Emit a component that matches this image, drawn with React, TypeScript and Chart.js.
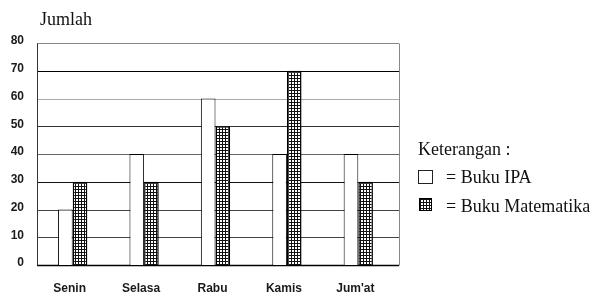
import React, { useEffect, useRef } from "react";
import { Chart, registerables } from "chart.js";

Chart.register(...registerables);

const categories = ["Senin", "Selasa", "Rabu", "Kamis", "Jum'at"];
const bukuIPA = [20, 40, 60, 40, 40];
const bukuMatematika = [30, 30, 50, 70, 30];
const yTicks = [0, 10, 20, 30, 40, 50, 60, 70, 80];
const yAxisTitle = "Jumlah";
const legendTitle = "Keterangan :";
const legendIPA = "= Buku IPA";
const legendMat = "= Buku Matematika";

const FRAME_RIGHT = 399;
const GRID_COLORS: Record<number, string> = {
  0: "#000",
  10: "#444",
  20: "#444",
  30: "#111",
  40: "#666",
  50: "#333",
  60: "#aaa",
  70: "#000",
  80: "#888",
};

const framePlugin = {
  id: "frame",
  beforeDatasetsDraw(chart: any) {
    const { ctx, chartArea, scales } = chart;
    const y = scales.y;
    ctx.save();
    yTicks.forEach((v) => {
      const py = Math.round(y.getPixelForValue(v)) + 0.5;
      ctx.strokeStyle = GRID_COLORS[v] || "#444";
      ctx.lineWidth = v === 0 ? 1.5 : 1;
      ctx.beginPath();
      ctx.moveTo(chartArea.left, py);
      ctx.lineTo(FRAME_RIGHT, py);
      ctx.stroke();
    });
    const top = Math.round(y.getPixelForValue(yTicks[yTicks.length - 1])) + 0.5;
    const bottom = Math.round(y.getPixelForValue(0)) + 0.5;
    ctx.lineWidth = 1;
    ctx.strokeStyle = "#333";
    ctx.beginPath();
    ctx.moveTo(chartArea.left + 0.5, top);
    ctx.lineTo(chartArea.left + 0.5, bottom);
    ctx.stroke();
    ctx.strokeStyle = "#888";
    ctx.beginPath();
    ctx.moveTo(FRAME_RIGHT + 0.5, top);
    ctx.lineTo(FRAME_RIGHT + 0.5, bottom);
    ctx.stroke();
    ctx.restore();
  },
};

const serif = "'Liberation Serif', 'Times New Roman', serif";

export default function App() {
  const canvasRef = useRef<HTMLCanvasElement | null>(null);

  useEffect(() => {
    const canvas = canvasRef.current!;
    const ctx = canvas.getContext("2d")!;
    const tile = document.createElement("canvas");
    tile.width = 3;
    tile.height = 3;
    const tg = tile.getContext("2d")!;
    tg.fillStyle = "#fff";
    tg.fillRect(0, 0, 3, 3);
    tg.fillStyle = "#111";
    tg.fillRect(0, 0, 3, 1);
    tg.fillRect(0, 0, 1, 3);
    const hatch = ctx.createPattern(tile, "repeat")!;

    const chart = new Chart(canvas, {
      type: "bar",
      data: {
        labels: categories,
        datasets: [
          {
            label: "Buku IPA",
            data: bukuIPA,
            backgroundColor: "#ffffff",
            borderColor: "#000",
            borderWidth: 1,
            categoryPercentage: 0.41,
            barPercentage: 1.0,
          },
          {
            label: "Buku Matematika",
            data: bukuMatematika,
            backgroundColor: hatch,
            borderColor: "#000",
            borderWidth: 1.5,
            categoryPercentage: 0.41,
            barPercentage: 1.0,
          },
        ],
      },
      options: {
        animation: false,
        responsive: false,
        maintainAspectRatio: false,
        layout: { padding: { left: 0, right: 199, top: 43, bottom: 0 } },
        plugins: { legend: { display: false }, tooltip: { enabled: false } },
        scales: {
          x: {
            grid: { display: false, drawTicks: false },
            border: { display: false },
            ticks: {
              padding: 16,
              labelOffset: -3,
              color: "#1a1a1a",
              font: { family: "'Liberation Sans', Arial, sans-serif", size: 12, weight: "bold" },
            },
            afterFit: (s: any) => {
              s.height = 28;
            },
          },
          y: {
            min: 0,
            max: 80,
            grid: { display: false, drawTicks: false },
            border: { display: false },
            ticks: {
              stepSize: 10,
              padding: 13,
              labelOffset: -2,
              color: "#1a1a1a",
              font: { family: "'Liberation Sans', Arial, sans-serif", size: 12, weight: "bold" },
            },
            afterFit: (s: any) => {
              s.width = 37;
            },
          },
        },
      },
      plugins: [framePlugin],
    });
    return () => chart.destroy();
  }, []);

  const textStyle = (left: number, top: number, size: number): React.CSSProperties => ({
    position: "absolute",
    left,
    top,
    fontFamily: serif,
    fontSize: size,
    lineHeight: 1,
    color: "#111",
    whiteSpace: "nowrap",
  });

  return (
    <div
      style={{
        position: "fixed",
        left: 0,
        top: 0,
        width: 593,
        height: 293,
        background: "#fff",
        overflow: "hidden",
      }}
    >
      <canvas ref={canvasRef} width={593} height={293} style={{ position: "absolute", left: 0, top: 0, width: 593, height: 293 }} />
      <div style={textStyle(40, 10, 18)}>{yAxisTitle}</div>
      <div style={textStyle(418, 140, 18)}>{legendTitle}</div>
      <div
        style={{
          position: "absolute",
          left: 418,
          top: 170,
          width: 15,
          height: 14,
          boxSizing: "border-box",
          border: "1px solid #222",
          background: "#fff",
        }}
      />
      <div style={textStyle(446, 168, 18)}>{legendIPA}</div>
      <div
        style={{
          position: "absolute",
          left: 419,
          top: 198,
          width: 13,
          height: 13,
          boxSizing: "border-box",
          border: "1.5px solid #000",
          backgroundColor: "#fff",
          backgroundImage:
            "linear-gradient(#111 1px, transparent 1px), linear-gradient(90deg, #111 1px, transparent 1px)",
          backgroundSize: "3px 3px",
        }}
      />
      <div style={textStyle(446, 197, 18)}>{legendMat}</div>
    </div>
  );
}
